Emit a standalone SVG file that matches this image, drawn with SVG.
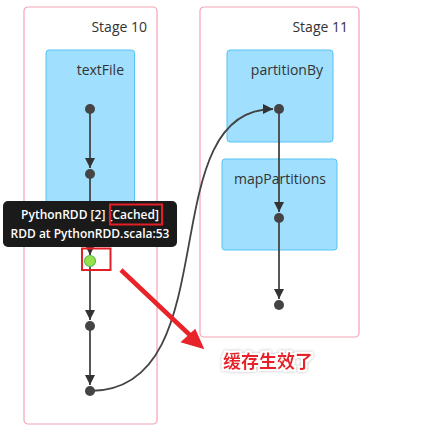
<svg xmlns="http://www.w3.org/2000/svg" width="425" height="435" viewBox="0 0 425 435">
<style>
.stage{fill:#fff;stroke:#f4a3b4;stroke-width:1.2}
.cluster{fill:#a0dffd;stroke:#55c3f5;stroke-width:1}
.lbl{font-family:"Segoe UI","Open Sans","Noto Sans",sans-serif;font-size:14px;fill:#333}
.edge{fill:none;stroke:#444;stroke-width:1.8}
.dot{fill:#444}
.tip{font-family:"Open Sans","Noto Sans",sans-serif;font-size:12px;font-weight:600;fill:#fff}
.hl{fill:none;stroke:#e41e26;stroke-width:2}
</style>
<defs>
<marker id="ah" viewBox="0 0 10 10" refX="10" refY="5" markerWidth="10" markerHeight="10" markerUnits="userSpaceOnUse" orient="auto">
<path d="M0,0 L10,5 L0,10 z" fill="#333"/>
</marker>
<filter id="glow" x="-20%" y="-40%" width="140%" height="180%">
<feMorphology in="SourceAlpha" operator="dilate" radius="2" result="d"/>
<feFlood flood-color="#fff"/>
<feComposite in2="d" operator="in" result="w"/>
<feGaussianBlur in="d" stdDeviation="1.5" result="b"/>
<feFlood flood-color="#bbb"/>
<feComposite in2="b" operator="in" result="g"/>
<feMerge><feMergeNode in="g"/><feMergeNode in="w"/><feMergeNode in="SourceGraphic"/></feMerge>
</filter>
</defs>
<rect width="425" height="435" fill="#fff"/>
<g id="stage10">
<rect class="stage" x="24" y="7" width="133" height="417" rx="4"/>
<text class="lbl" x="147" y="32" text-anchor="end">Stage 10</text>
</g>
<g id="stage11">
<rect class="stage" x="200" y="7" width="159" height="330" rx="4"/>
<text class="lbl" x="348" y="32" text-anchor="end">Stage 11</text>
</g>
<g id="textFile">
<rect class="cluster" x="46" y="50" width="88.5" height="156" rx="3"/>
<text class="lbl" x="124" y="75" text-anchor="end">textFile</text>
</g>
<g id="partitionBy">
<rect class="cluster" x="227" y="50" width="106" height="92" rx="3"/>
<text class="lbl" x="323" y="75" text-anchor="end">partitionBy</text>
</g>
<g id="mapPartitions">
<rect class="cluster" x="222" y="159" width="115" height="91" rx="3"/>
<text class="lbl" x="326" y="184" text-anchor="end">mapPartitions</text>
</g>
<g id="edges">
<path class="edge" d="M90,109 L90,168" marker-end="url(#ah)"/>
<path class="edge" d="M90,174 L90,255" marker-end="url(#ah)"/>
<path class="edge" d="M90,261 L90,320" marker-end="url(#ah)"/>
<path class="edge" d="M90,326 L90,385" marker-end="url(#ah)"/>
<path class="edge" d="M90,391 C230,391 150,109 273,109" marker-end="url(#ah)"/>
<path class="edge" d="M279,109 L279,212" marker-end="url(#ah)"/>
<path class="edge" d="M279,218 L279,299" marker-end="url(#ah)"/>
</g>
<g id="n1"><circle class="dot" cx="90" cy="109" r="5"/></g>
<g id="n2"><circle class="dot" cx="90" cy="174" r="5"/></g>
<g id="n3"><circle cx="90" cy="261" r="5.5" fill="#97e14a" stroke="#5cb85c" stroke-width="1.2"/></g>
<g id="n4"><circle class="dot" cx="90" cy="326" r="5"/></g>
<g id="n5"><circle class="dot" cx="90" cy="391" r="5"/></g>
<g id="n6"><circle class="dot" cx="279" cy="109" r="5"/></g>
<g id="n7"><circle class="dot" cx="279" cy="218" r="5"/></g>
<g id="n8"><circle class="dot" cx="279" cy="305" r="5"/></g>
<g id="tooltip">
<rect x="3" y="201" width="174" height="46" rx="5" fill="#1a1a1a"/>
<text class="tip" x="90" y="219" text-anchor="middle">PythonRDD [2] [Cached]</text>
<text class="tip" x="90" y="238" text-anchor="middle">RDD at PythonRDD.scala:53</text>
<rect class="hl" x="110" y="204.5" width="52" height="20"/>
</g>
<g id="annotation">
<rect class="hl" x="82" y="248.5" width="28.5" height="21.5"/>
<path d="M121,270 L193,338" stroke="#e8232a" stroke-width="4.5" fill="none"/>
<path d="M203,348 L182,342 L195,330 z" fill="#e8232a" stroke="#e8232a" stroke-width="1.5" stroke-linejoin="miter"/>
<text x="223" y="368" font-family="'Noto Sans CJK SC','Noto Sans CJK JP',sans-serif" font-size="18" font-weight="bold" fill="#e8232a" filter="url(#glow)">缓存生效了</text>
</g>
</svg>
